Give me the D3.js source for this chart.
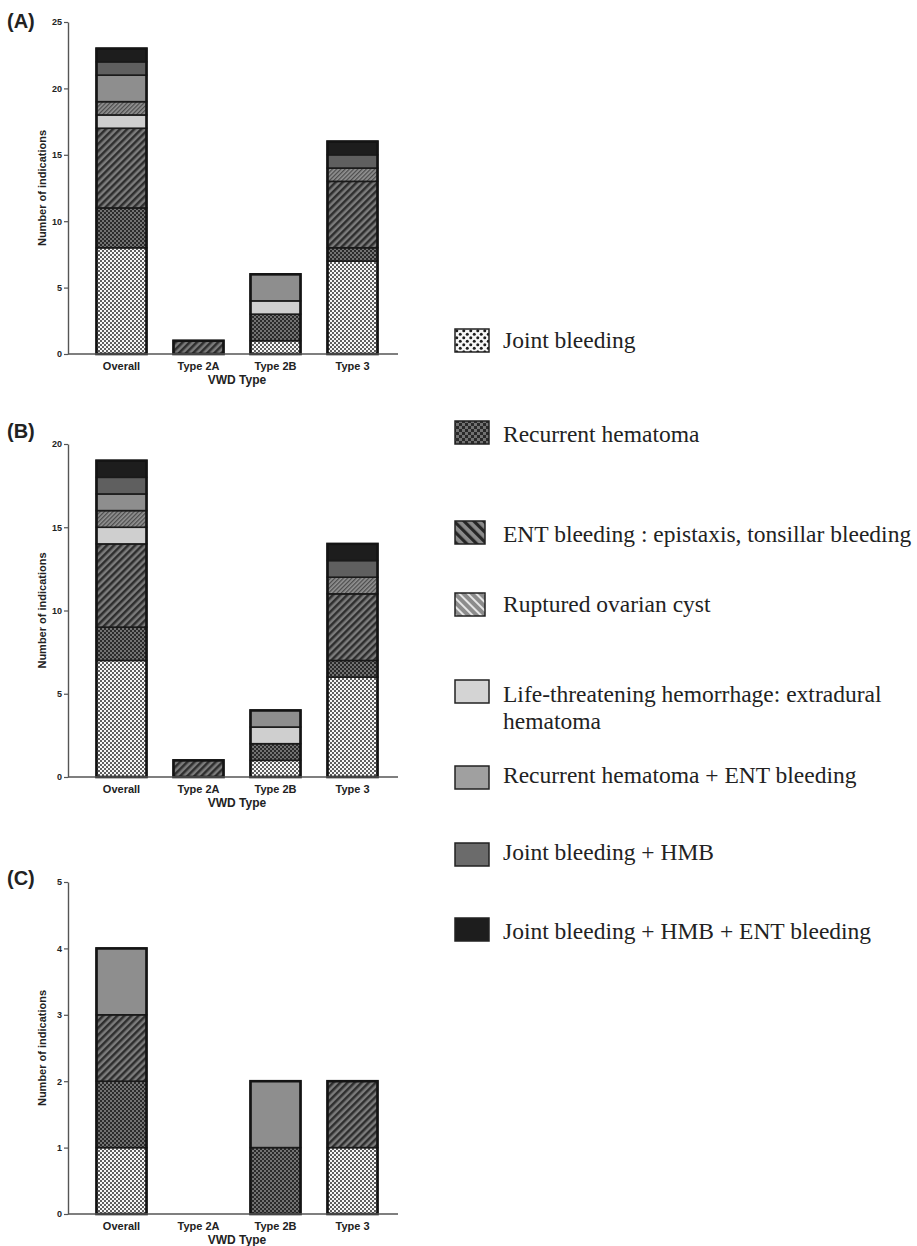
<!DOCTYPE html>
<html>
<head>
<meta charset="utf-8">
<script src="https://cdn.jsdelivr.net/npm/d3@7"></script>
<style>
  body { margin: 0; background: #fff; }
  svg text { fill: #222; }
</style>
</head>
<body>
<div id="chart"></div>
<script>
// categories and indication types
var vwd_types = ["Overall", "Type 2A", "Type 2B", "Type 3"]
var indications = [
    "Joint bleeding",
    "Recurrent hematoma",
    "ENT bleeding : epistaxis, tonsillar bleeding",
    "Life-threatening hemorrhage: extradural hematoma",
    "Ruptured ovarian cyst",
    "Recurrent hematoma + ENT bleeding",
    "Joint bleeding + HMB",
    "Joint bleeding + HMB + ENT bleeding"
]
// legend order differs from stack order
var legend_order = [0, 1, 2, 4, 3, 5, 6, 7]

// one row per indication, values for Overall / 2A / 2B / 3
var panel_a = [
    [8, 0, 1, 7],
    [3, 0, 2, 1],
    [6, 1, 0, 5],
    [1, 0, 1, 0],
    [1, 0, 0, 1],
    [2, 0, 2, 0],
    [1, 0, 0, 1],
    [1, 0, 0, 1]
]
var panel_b = [
    [7, 0, 1, 6],
    [2, 0, 1, 1],
    [5, 1, 0, 4],
    [1, 0, 1, 0],
    [1, 0, 0, 1],
    [1, 0, 1, 0],
    [1, 0, 0, 1],
    [1, 0, 0, 1]
]
var panel_c = [
    [1, 0, 0, 1],
    [1, 0, 1, 0],
    [1, 0, 0, 1],
    [0, 0, 0, 0],
    [0, 0, 0, 0],
    [1, 0, 1, 0],
    [0, 0, 0, 0],
    [0, 0, 0, 0]
]
var ticks_a = [0, 5, 10, 15, 20, 25]
var ticks_b = [0, 5, 10, 15, 20]
var ticks_c = [0, 1, 2, 3, 4, 5]

var width = 917, height = 1246
var svg = d3.select("#chart").append("svg").attr("width", width).attr("height", height)
var defs = svg.append("defs")

function stripes(id, bg, fg, size, lw, angle){
    var p = defs.append("pattern").attr("id", id).attr("patternUnits", "userSpaceOnUse")
        .attr("width", size).attr("height", size).attr("patternTransform", "rotate(" + angle + ")")
    p.append("rect").attr("width", size).attr("height", size).attr("fill", bg)
    p.append("rect").attr("x", 0).attr("width", lw).attr("height", size).attr("fill", fg)
}
// joint bleeding: white with dark dots
var pj = defs.append("pattern").attr("id", "p-joint").attr("patternUnits", "userSpaceOnUse").attr("width", 4).attr("height", 4)
pj.append("rect").attr("width", 4).attr("height", 4).attr("fill", "#f7f7f7")
pj.append("circle").attr("cx", 1).attr("cy", 1).attr("r", 0.95).attr("fill", "#1e1e1e")
pj.append("circle").attr("cx", 3).attr("cy", 3).attr("r", 0.95).attr("fill", "#1e1e1e")
var pjl = defs.append("pattern").attr("id", "l-joint").attr("patternUnits", "userSpaceOnUse").attr("width", 7).attr("height", 7)
pjl.append("rect").attr("width", 7).attr("height", 7).attr("fill", "#f6f6f6")
pjl.append("circle").attr("cx", 1.75).attr("cy", 1.75).attr("r", 1.5).attr("fill", "#1e1e1e")
pjl.append("circle").attr("cx", 5.25).attr("cy", 5.25).attr("r", 1.5).attr("fill", "#1e1e1e")
// recurrent hematoma: dark checker
function checker(id, s){
    var p = defs.append("pattern").attr("id", id).attr("patternUnits", "userSpaceOnUse").attr("width", s * 2).attr("height", s * 2)
    p.append("rect").attr("width", s * 2).attr("height", s * 2).attr("fill", "#727272")
    p.append("rect").attr("width", s).attr("height", s).attr("fill", "#2a2a2a")
    p.append("rect").attr("x", s).attr("y", s).attr("width", s).attr("height", s).attr("fill", "#2a2a2a")
}
checker("p-rh", 2)
checker("l-rh", 3)
stripes("p-ent", "#7c7c7c", "#2e2e2e", 5, 2.5, 45)
stripes("l-ent", "#8a8a8a", "#262626", 7, 3.2, -45)
stripes("p-rup", "#939393", "#4c4c4c", 3, 1.3, 45)
stripes("l-rup", "#8c8c8c", "#e6e6e6", 6, 2, -45)

var bar_fill = ["url(#p-joint)", "url(#p-rh)", "url(#p-ent)", "#cfcfcf", "url(#p-rup)", "#8e8e8e", "#5f5f5f", "#1d1d1d"]
var legend_fill = ["url(#l-joint)", "url(#l-rh)", "url(#l-ent)", "#d4d4d4", "url(#l-rup)", "#a0a0a0", "#6b6b6b", "#1d1d1d"]

var x = d3.scaleBand().domain(vwd_types).range([83, 391]).paddingInner(0.35).paddingOuter(0.175)

function draw_panel(label, rows, yticks, top, bottom){
    var ymax = yticks[yticks.length - 1]
    var y = d3.scaleLinear().domain([0, ymax]).range([bottom, top])
    var g = svg.append("g")
    var table = vwd_types.map(function(t, j){
        var o = {type: t}
        indications.forEach(function(n, i){ o[n] = rows[i][j] })
        return o
    })
    var series = d3.stack().keys(indications)(table)

    series.forEach(function(s, i){
        g.selectAll(null).data(s.filter(function(d){ return d[1] > d[0] })).enter()
            .append("rect")
            .attr("x", function(d){ return x(d.data.type) })
            .attr("width", x.bandwidth())
            .attr("y", function(d){ return y(d[1]) })
            .attr("height", function(d){ return y(d[0]) - y(d[1]) })
            .attr("fill", bar_fill[i])
            .attr("stroke", "#1a1a1a").attr("stroke-width", 1.6)
    })
    // outer outline of each bar
    g.selectAll(null).data(table.filter(function(d){ return d3.sum(indications, function(n){ return d[n] }) > 0 })).enter()
        .append("rect")
        .attr("x", function(d){ return x(d.type) })
        .attr("width", x.bandwidth())
        .attr("y", function(d){ return y(d3.sum(indications, function(n){ return d[n] })) })
        .attr("height", function(d){ return bottom - y(d3.sum(indications, function(n){ return d[n] })) })
        .attr("fill", "none").attr("stroke", "#141414").attr("stroke-width", 2.6)

    var yAxis = g.append("g").attr("transform", "translate(68,0)")
        .call(d3.axisLeft(y).tickValues(yticks).tickFormat(d3.format("d")).tickSize(4).tickPadding(2).tickSizeOuter(0))
    yAxis.select(".domain").attr("stroke", "#555").attr("stroke-width", 1.4)
    yAxis.selectAll(".tick line").attr("stroke", "#555").attr("stroke-width", 1.2)
    yAxis.selectAll(".tick text").attr("font-family", "Liberation Sans, Arial, sans-serif")
        .attr("font-size", 9).attr("font-weight", "bold").attr("fill", "#333")

    g.append("line").attr("x1", 68).attr("x2", 398).attr("y1", bottom).attr("y2", bottom)
        .attr("stroke", "#555").attr("stroke-width", 1.6)

    g.selectAll(null).data(vwd_types).enter().append("text")
        .attr("x", function(d){ return x(d) + x.bandwidth() / 2 })
        .attr("y", bottom + 16)
        .attr("text-anchor", "middle")
        .attr("font-family", "Liberation Sans, Arial, sans-serif").attr("font-size", 11).attr("font-weight", "bold")
        .attr("fill", "#333")
        .text(function(d){ return d })
    g.append("text").attr("x", 237).attr("y", bottom + 30).attr("text-anchor", "middle")
        .attr("font-family", "Liberation Sans, Arial, sans-serif").attr("font-size", 12).attr("font-weight", "bold")
        .attr("fill", "#333").text("VWD Type")
    g.append("text").attr("transform", "translate(46," + ((top + bottom) / 2) + ") rotate(-90)")
        .attr("text-anchor", "middle")
        .attr("font-family", "Liberation Sans, Arial, sans-serif").attr("font-size", 11).attr("font-weight", "bold")
        .attr("fill", "#333").text("Number of indications")
    g.append("text").attr("x", 7).attr("y", top + label_dy[label])
        .attr("font-family", "Liberation Sans, Arial, sans-serif").attr("font-size", 20).attr("font-weight", "bold")
        .attr("fill", "#111").text(label)
}
var label_dy = {"(A)": 6, "(B)": -6, "(C)": 3}

draw_panel("(A)", panel_a, ticks_a, 22, 354)
draw_panel("(B)", panel_b, ticks_b, 444, 777)
draw_panel("(C)", panel_c, ticks_c, 882, 1214)

// legend
var legend_top = [329, 421, 521, 593, 680, 766, 843, 918]
var legend_base = [348, 442, 542, 612, 702, 783, 860, 939]
var legend = svg.append("g")
legend_order.forEach(function(idx, k){
    legend.append("rect").attr("x", 455).attr("y", legend_top[k])
        .attr("width", (idx == 2 || idx == 4) ? 30 : 34).attr("height", 23)
        .attr("fill", legend_fill[idx]).attr("stroke", "#222").attr("stroke-width", 1.5)
    var t = legend.append("text").attr("x", 503).attr("y", legend_base[k])
        .attr("font-family", "Liberation Serif, Times New Roman, serif").attr("font-size", 23.5).attr("fill", "#231f20")
    if (idx == 3){
        t.append("tspan").attr("x", 503).text("Life-threatening hemorrhage: extradural")
        t.append("tspan").attr("x", 503).attr("dy", 27).text("hematoma")
    }
    else {
        t.text(indications[idx])
    }
})
</script>
</body>
</html>
